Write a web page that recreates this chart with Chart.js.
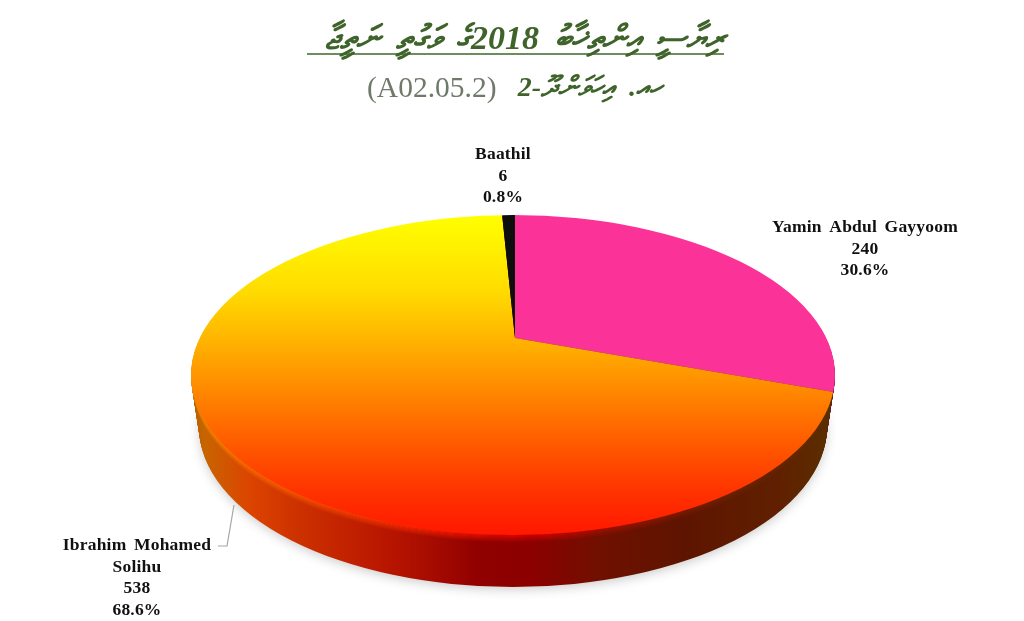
<!DOCTYPE html>
<html><head><meta charset="utf-8">
<style>html,body{margin:0;padding:0;background:#fff}canvas{display:block}</style>
<script src="https://cdn.jsdelivr.net/npm/chart.js@4"></script>
</head><body><canvas id="c" width="1024" height="621"></canvas>
<script>
const categories = ["Yamin Abdul Gayyoom","Ibrahim Mohamed Solihu","Baathil"];
const votes = [240,538,6];
const percents = ["30.6%","68.6%","0.8%"];
const titleText = "ރިޔާސީ އިންތިޚާބު 2018ގެ ވަގުތީ ނަތީޖާ";
const subtitleText = "ހއ. އިހަވަންދޫ-2";
const boxCode = "(A02.05.2)";

const apex={x:515,y:338}, face={x:513,y:375,rx:322,ry:160}, depth=52;
const reachX=450, reachY=207;

function gradient(ctx,arc,sx,sy,vertical,stops){
  const u=v=>vertical? arc.y+(v-apex.y)/sy : arc.x+(v-apex.x)/sx;
  const a=stops[0][0], b=stops[stops.length-1][0];
  const g=vertical?ctx.createLinearGradient(0,u(a),0,u(b)):ctx.createLinearGradient(u(a),0,u(b),0);
  stops.forEach(s=>g.addColorStop((s[0]-a)/(b-a),s[1]));
  return g;
}
const faceStops=[[215,'#ffff00'],[290,'#ffdc00'],[340,'#ffb400'],[400,'#ff8000'],[450,'#ff5500'],[490,'#ff3400'],[535,'#ff1800']];
const sideStops=[[191,'#b06000'],[205,'#c86400'],[250,'#dc4400'],[300,'#cc3000'],[390,'#b81500'],[480,'#900000'],[530,'#8c0000'],[600,'#701000'],[680,'#5e1400'],[780,'#602000'],[835,'#5a3000']];
const rimStops=[[191,'#ffa000'],[250,'#ff7000'],[330,'#ff4a00'],[430,'#ff2000'],[530,'#e00000'],[620,'#a01000'],[720,'#702000'],[835,'#5a3000']];

const pie3d={
  id:'pie3d',
  beforeDatasetsDraw(chart){
    const ctx=chart.ctx, arcs=chart.getDatasetMeta(0).data;
    const R=arcs[0].outerRadius, sx=reachX/R, sy=reachY/R;
    const place=(a,dy)=>{ctx.translate(apex.x,apex.y+dy);ctx.scale(sx,sy);ctx.translate(-a.x,-a.y);};
    const sideColors=['#6a0a50',null,'#000'];
    const sideGrad=gradient(ctx,arcs[0],sx,sy,false,sideStops);
    const rimGrad=gradient(ctx,arcs[0],sx,sy,false,rimStops);
    const rxAt=d=>face.rx-d*8/depth;
    ctx.save();ctx.shadowColor='rgba(0,0,0,.22)';ctx.shadowBlur=12;ctx.shadowOffsetY=3;
    ctx.fillStyle='#fff';ctx.beginPath();ctx.ellipse(face.x,face.y+depth,rxAt(depth)-1,face.ry-1,0,0,Math.PI*2);ctx.fill();ctx.restore();
    const paint=(d,colorAt)=>{
      arcs.forEach((a,i)=>{
        ctx.save();place(a,d);
        const o=a.options; const t=Object.create(o);
        t.backgroundColor=colorAt(i);t.borderWidth=0;
        a.options=t;a.draw(ctx);a.options=o;
        ctx.restore();
      });
    };
    for(let d=depth;d>=1;d--){
      ctx.save();
      ctx.beginPath();ctx.ellipse(face.x,face.y+d,rxAt(d),face.ry,0,0,Math.PI*2);ctx.clip();
      paint(d,i=>sideColors[i]||sideGrad);
      if(d<=7){ctx.globalAlpha=1-d/8;paint(d,i=>sideColors[i]||rimGrad);ctx.globalAlpha=1;}
      ctx.restore();
    }
    ctx.save();
    ctx.beginPath();ctx.ellipse(face.x,face.y,face.rx,face.ry,0,0,Math.PI*2);ctx.clip();
    const faceGrad=gradient(ctx,arcs[0],sx,sy,true,faceStops);
    arcs.forEach((a,i)=>{
      ctx.save();place(a,0);
      const o=a.options;
      if(i===1){const t=Object.create(o);t.backgroundColor=faceGrad;a.options=t;}
      a.draw(ctx);a.options=o;
      ctx.restore();
    });
    ctx.restore();
    return false;
  },
  afterDraw(chart){
    const ctx=chart.ctx;
    ctx.save();
    ctx.strokeStyle='#a6a6a6';ctx.lineWidth=1.2;ctx.beginPath();
    ctx.moveTo(218,546);ctx.lineTo(227,546);ctx.lineTo(234,505);ctx.stroke();
    ctx.fillStyle='#111';ctx.textAlign='center';ctx.textBaseline='middle';
    ctx.font='bold 17.5px "Liberation Serif"';
    const line=(s,x,y)=>{ctx.fillText(s,x,y);};
    ctx.letterSpacing='0.2px';ctx.wordSpacing='3px';
    line(categories[0],865,227);line(String(votes[0]),865,249);line(percents[0],865,270);
    line('Ibrahim Mohamed',137,545);line('Solihu',137,567);line(String(votes[1]),137,588);line(percents[1],137,610);
    line(categories[2],503,154);line(String(votes[2]),503,176);line(percents[2],503,197);
    ctx.letterSpacing='0px';ctx.wordSpacing='0px';
    ctx.fillStyle='#3f642b';ctx.direction='rtl';ctx.textAlign='center';ctx.textBaseline='alphabetic';
    ctx.font='italic bold 34px "Liberation Serif","Noto Sans","DejaVu Sans"';
    ctx.wordSpacing='7px';
    ctx.fillText(titleText,525,49);
    ctx.wordSpacing='0px';
    ctx.direction='ltr';
    ctx.strokeStyle='#3f642b';ctx.lineWidth=1.5;ctx.beginPath();ctx.moveTo(307,54);ctx.lineTo(724,54);ctx.stroke();
    ctx.textBaseline='middle';
    ctx.textAlign='left';ctx.fillStyle='#6f7a6a';ctx.font='29.5px "Liberation Serif"';
    ctx.fillText(boxCode,367,89);
    ctx.fillStyle='#3f642b';ctx.direction='rtl';ctx.textAlign='right';ctx.font='italic bold 28px "Liberation Serif","Noto Sans","DejaVu Sans"';
    ctx.wordSpacing='8px';
    ctx.fillText(subtitleText,662,89);
    ctx.restore();
  }
};
new Chart(document.getElementById('c'),{
  type:'pie',
  data:{labels:categories,datasets:[{data:votes,backgroundColor:['#fb3399','#ffa800','#0d0d0d'],borderWidth:0}]},
  options:{responsive:false,animation:false,layout:{padding:0},
    plugins:{legend:{display:false},tooltip:{enabled:false}}},
  plugins:[pie3d]
});
</script></body></html>
